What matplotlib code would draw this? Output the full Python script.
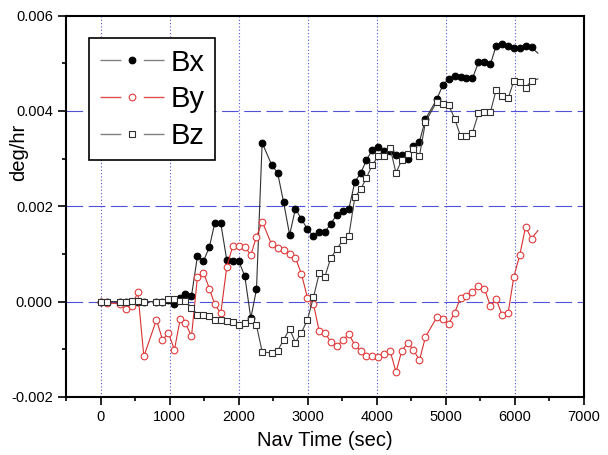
import matplotlib
matplotlib.use("Agg")
import matplotlib.pyplot as plt
from matplotlib.lines import Line2D
from matplotlib.ticker import MultipleLocator, FormatStrFormatter

plt.rcParams['font.family'] = ['Liberation Sans', 'DejaVu Sans']

# sample times (sec)
nav_time = [0, 87, 280, 367, 453, 540, 627, 810, 897, 984,
            1070, 1153, 1230, 1317, 1403, 1490, 1577, 1654, 1741, 1828,
            1915, 2002, 2089, 2176, 2258, 2340, 2477, 2564, 2651, 2738,
            2822, 2909, 2996, 3083, 3166, 3248, 3332, 3419, 3508, 3595,
            3682, 3768, 3848, 3933, 4020, 4107, 4193, 4278, 4362, 4447,
            4531, 4617, 4705, 4868, 4955, 5040, 5127, 5212, 5298, 5385,
            5472, 5559, 5646, 5728, 5815, 5901, 5984, 6070, 6155, 6240,
            6332]

# bias estimates, units of 1e-3 deg/hr
bx = [0, 0, 0, 0, 0, 0, 0, 0, 0, 0.03,
      -0.05, 0.07, 0.15, 0.12, 0.95, 0.85, 1.15, 1.65, 1.64, 0.87,
      0.86, 0.85, 0.53, -0.35, 0.26, 3.33, 2.87, 2.70, 2.08, 1.40,
      1.95, 1.73, 1.52, 1.37, 1.46, 1.46, 1.63, 1.82, 1.90, 1.94,
      2.51, 2.70, 2.96, 3.18, 3.25, 3.16, 3.16, 3.08, 3.08, 2.99,
      3.27, 3.35, 3.83, 4.24, 4.54, 4.67, 4.73, 4.70, 4.68, 4.68,
      5.02, 5.02, 4.98, 5.37, 5.40, 5.37, 5.31, 5.31, 5.35, 5.33,
      5.21]
by = [0, -0.03, -0.04, -0.16, -0.10, 0.20, -1.15, -0.38, -0.80, -0.66,
      -1.01, -0.37, -0.45, -0.73, 0.52, 0.61, 0.27, -0.06, -0.24, 0.73,
      1.17, 1.17, 1.15, 0.98, 1.36, 1.68, 1.20, 1.12, 1.08, 1.00,
      0.92, 0.58, 0.08, -0.05, -0.62, -0.65, -0.84, -0.94, -0.81, -0.68,
      -0.91, -1.04, -1.14, -1.14, -1.17, -1.10, -1.03, -1.48, -1.03, -0.87,
      -1.01, -1.23, -0.74, -0.33, -0.36, -0.47, -0.23, 0.07, 0.12, 0.21,
      0.33, 0.27, -0.10, 0.05, -0.28, -0.24, 0.52, 0.98, 1.57, 1.32,
      1.49]
bz = [0, 0, 0, 0, 0.02, 0.02, 0, 0, 0, 0.06,
      0.06, 0.02, 0.02, -0.13, -0.27, -0.27, -0.31, -0.38, -0.38, -0.40,
      -0.43, -0.49, -0.45, -0.38, -0.50, -1.05, -1.08, -1.03, -0.80, -0.57,
      -0.86, -0.65, -0.38, 0.09, 0.59, 0.52, 0.91, 1.10, 1.29, 1.38,
      2.19, 2.36, 2.59, 2.86, 3.05, 3.05, 3.22, 2.70, 2.97, 3.09,
      3.21, 3.05, 3.77, 4.19, 4.14, 4.12, 3.84, 3.47, 3.47, 3.54,
      3.95, 3.98, 3.98, 4.44, 4.31, 4.26, 4.63, 4.60, 4.49, 4.63,
      4.67]

labels = ['Bx', 'By', 'Bz']

fig = plt.figure(figsize=(6.08, 4.55), dpi=100)
ax = fig.add_axes([66 / 608, 58 / 455, 518 / 608, 381.5 / 455])

grid_blue = '#5050d8'
for gx in range(0, 7000, 1000):
    ax.axvline(gx, color=grid_blue, lw=0.8, ls=(0, (1, 2)), zorder=0)
for gy in [0, 0.002, 0.004]:
    ax.axhline(gy, color=grid_blue, lw=0.8, ls=(0, (15, 5)), zorder=0)

s = 1e-3
styles = {
    'Bx': dict(color='#303030', marker='o', ms=4.8, mfc='black', mec='black', mew=0.8),
    'By': dict(color='#d83030', marker='o', ms=4.8, mfc='white', mec='#e03a3a', mew=0.8),
    'Bz': dict(color='#404040', marker='s', ms=4.3, mfc='white', mec='#303030', mew=0.8),
}
for name, vals in zip(labels, [bx, by, bz]):
    ax.plot(nav_time, [v * s for v in vals], lw=0.8, markevery=slice(None, -1),
            zorder=3, **styles[name])

ax.set_xlim(-500, 7000)
ax.set_ylim(-0.002, 0.006)
ax.xaxis.set_major_locator(MultipleLocator(1000))
ax.xaxis.set_minor_locator(MultipleLocator(500))
ax.yaxis.set_major_locator(MultipleLocator(0.002))
ax.yaxis.set_minor_locator(MultipleLocator(0.001))
ax.yaxis.set_major_formatter(FormatStrFormatter('%.3f'))
ax.tick_params(which='both', direction='out', top=False, right=False, labelsize=10.5, width=1.2)
ax.tick_params(which='major', length=6)
ax.tick_params(which='minor', length=3)
for sp in ax.spines.values():
    sp.set_linewidth(1.5)

ax.set_xlabel('Nav Time (sec)', fontsize=14.5, labelpad=5)
ax.set_ylabel('deg/hr', fontsize=14.5)
ax.yaxis.set_label_coords(-0.073, 0.64)

# legend proxies with a gap around the marker
handles = []
for name in labels:
    st = dict(styles[name])
    st['color'] = '#808080' if name != 'By' else '#e05050'
    handles.append(Line2D([], [], lw=1.0, ls=(0, (15.0, 16.2)), **st))
leg = ax.legend(handles, labels, loc='upper left', bbox_to_anchor=(0.045, 0.94),
                borderaxespad=0, fontsize=21, numpoints=1, handlelength=2.2,
                handletextpad=0.25, labelspacing=0.3, borderpad=0.35,
                fancybox=False, framealpha=1, edgecolor='black')
leg.get_frame().set_linewidth(1.2)

fig.savefig('out.png', dpi=100)
